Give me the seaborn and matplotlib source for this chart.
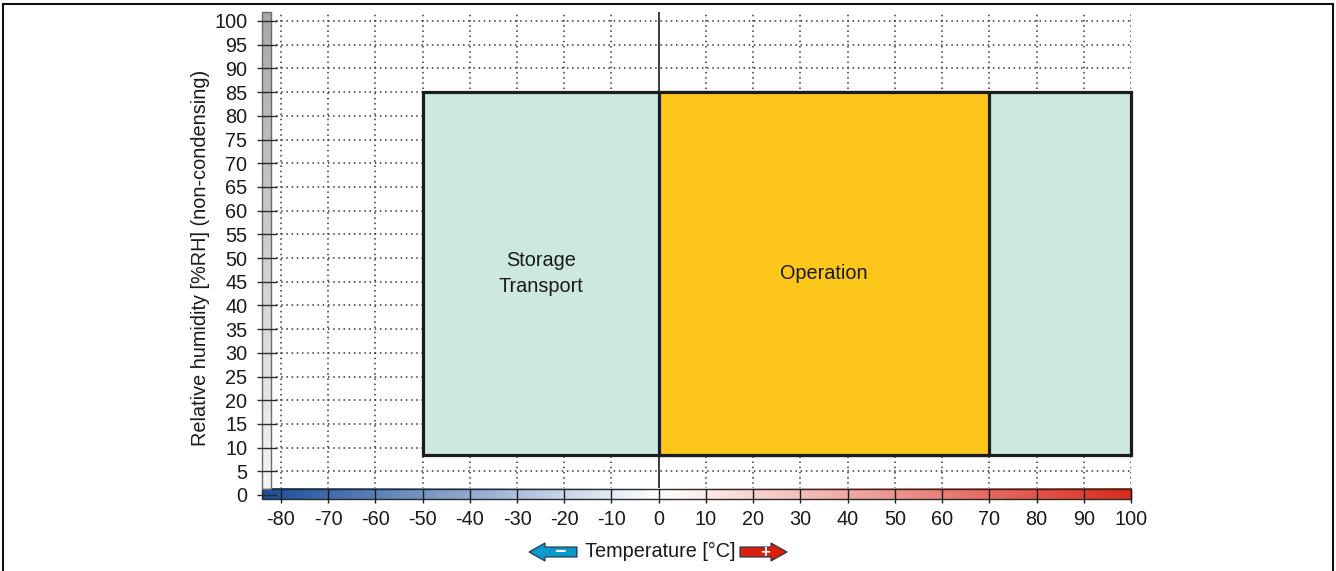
import numpy as np
import matplotlib
matplotlib.use("Agg")
import matplotlib.pyplot as plt
from matplotlib.patches import Rectangle, Polygon
import seaborn as sns

# Axis ticks
temp_ticks = list(range(-80, 101, 10))
rh_ticks = list(range(0, 101, 5))

# Climate zones: name, temperature range [°C], humidity range [%RH]
zone_names = ["Storage\nTransport", "Operation"]
zone_t_min = [-50, 0]
zone_t_max = [100, 70]
zone_rh_min = [8.5, 8.5]
zone_rh_max = [85, 85]
zone_label_x = [-25, 35]
zone_colors = ["#CDE8E0", "#FCC71A"]

sns.set_theme(style="white")
plt.rcParams["font.family"] = ["Liberation Sans", "DejaVu Sans"]
plt.rcParams["font.size"] = 14

W, H = 1336, 571
fig = plt.figure(figsize=(W / 100, H / 100), dpi=100)

x_lo, x_hi = -84, 100
y_lo, y_hi = -1.5, 102
px_left, px_right = 262, 1131
px_y0, px_per_unit = 495, 4.74
px_bottom = px_y0 - y_lo * px_per_unit
px_top = px_y0 - y_hi * px_per_unit
ax = fig.add_axes([px_left / W, 1 - px_bottom / H,
                   (px_right - px_left) / W, (px_bottom - px_top) / H])

# Dotted grid inside the data range
grid_kw = dict(colors="#333333", linewidth=1.1, linestyles=(0, (1, 2.4)), zorder=1)
ax.hlines(rh_ticks[1:], -81, 100, **grid_kw)
ax.vlines([t for t in temp_ticks if t != 0], 1.3, 101.4, **grid_kw)
ax.vlines(0, 0, y_hi, colors="#1a1a1a", linewidth=1.2, zorder=1.5)

# Climate zones
for name, t0, t1, r0, r1, lx, c in zip(zone_names, zone_t_min, zone_t_max,
                                       zone_rh_min, zone_rh_max, zone_label_x,
                                       zone_colors):
    bars = ax.bar(t0, r1 - r0, width=t1 - t0, bottom=r0, align="edge",
                  color=c, edgecolor="#1c1c1c", linewidth=2.3, zorder=2)
    for b in bars:
        b.set_clip_on(False)
    ax.text(lx, (r0 + r1) / 2, name, ha="center", va="center",
            fontsize=14.3, linespacing=1.45, color="#1a1a1a", zorder=3)

# Temperature colour scale along the x axis
bar_y0, bar_y1 = -0.9, 1.3
cold = sns.blend_palette(["#1A4D9B", "#FFFFFF"], as_cmap=True)
warm = sns.blend_palette(["#FFFFFF", "#DA2A1C"], as_cmap=True)
grad = np.linspace(0, 1, 256).reshape(1, -1)
ax.imshow(grad, cmap=cold, extent=(x_lo, 0, bar_y0, bar_y1), aspect="auto", zorder=2)
ax.imshow(grad, cmap=warm, extent=(0, x_hi, bar_y0, bar_y1), aspect="auto", zorder=2)
ax.add_patch(Rectangle((x_lo, bar_y0), x_hi - x_lo, bar_y1 - bar_y0,
                       fill=False, edgecolor="#2a2a2a", linewidth=1.0, zorder=2.5,
                       clip_on=False))

# Humidity scale along the y axis
gray = sns.blend_palette(["#F4F4F4", "#A9A9A9"], as_cmap=True)
vgrad = np.linspace(0, 1, 256).reshape(-1, 1)
ax.imshow(vgrad, cmap=gray, origin="lower", extent=(x_lo, -82, bar_y1, 102),
          aspect="auto", zorder=2)
ax.add_patch(Rectangle((x_lo, bar_y1), 2, 102 - bar_y1, fill=False,
                       edgecolor="#6a6a6a", linewidth=1.0, zorder=2.5,
                       clip_on=False))

ax.set_xlim(x_lo, x_hi)
ax.set_ylim(y_lo, y_hi)
ax.set_xticks(temp_ticks)
ax.set_yticks(rh_ticks)
ax.set_xticklabels([str(t) for t in temp_ticks])
ax.set_yticklabels([str(r) for r in rh_ticks])
for s in ax.spines.values():
    s.set_visible(False)
ax.spines["left"].set_position(("data", -82.9))
ax.spines["bottom"].set_position(("data", -0.2))
ax.tick_params(axis="y", direction="inout", length=14.4, width=1.0,
               color="#2a2a2a", pad=7, labelsize=14.3, labelcolor="#1a1a1a",
               left=True)
ax.tick_params(axis="x", direction="inout", length=10, width=1.0,
               color="#1a1a1a", pad=5, labelsize=14.3, labelcolor="#1a1a1a",
               bottom=True)
for t in ax.get_xticklines() + ax.get_yticklines():
    t.set_zorder(3)
ax.set_axisbelow(False)

# Axis titles
fig.text(201 / W, 1 - 258 / H, "Relative humidity [%RH] (non-condensing)",
         rotation=90, ha="center", va="center", fontsize=14.3, color="#1a1a1a")
fig.text(660 / W, 1 - 551 / H, "Temperature [°C]", ha="center", va="center",
         fontsize=14.3, color="#1a1a1a")


def arrow(tip_x, tail_x, yc, face):
    d = 1 if tail_x > tip_x else -1
    head_x = tip_x + d * 16
    pts = [(tip_x, yc), (head_x, yc - 9), (head_x, yc - 5), (tail_x, yc - 5),
           (tail_x, yc + 5), (head_x, yc + 5), (head_x, yc + 9)]
    pts = [(x / W, 1 - y / H) for x, y in pts]
    fig.add_artist(Polygon(pts, closed=True, facecolor=face,
                           edgecolor="#1f2f3a", linewidth=0.8,
                           transform=fig.transFigure))


arrow(529, 577, 552, "#0B98CF")
arrow(787, 740, 552, "#D9200F")
fig.text(560 / W, 1 - 552 / H, "\u2212", ha="center", va="center",
         fontsize=14, fontweight="bold", color="white")
fig.text(765 / W, 1 - 552 / H, "+", ha="center", va="center",
         fontsize=12, fontweight="bold", color="white")

# Frame around the figure
fig.add_artist(Rectangle((3 / W, -0.05), (1333 - 3) / W, 1.05 - 4 / H,
                         fill=False, edgecolor="#111111", linewidth=1.5,
                         transform=fig.transFigure))

fig.savefig("out.png", dpi=100)
